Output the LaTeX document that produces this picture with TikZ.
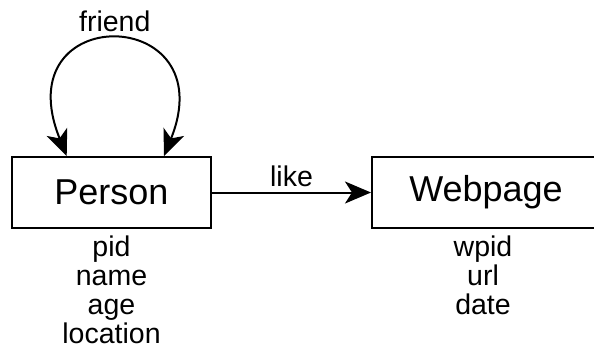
\documentclass[tikz,border=0pt]{standalone}
\usepackage{fontspec}
\setmainfont{Liberation Sans}
\usetikzlibrary{arrows.meta,positioning}

\begin{document}
\begin{tikzpicture}[
    node distance=79.5pt,
    >={Stealth[length=13pt, width=11pt, inset=3.5pt]},
    entity/.style={draw, line width=1pt, minimum height=35.5pt, font=\fontsize{18}{21.6}\selectfont},
    attrs/.style={align=center, font=\fontsize{14.25}{14.4}\selectfont},
    lbl/.style={font=\fontsize{14.25}{14.4}\selectfont},
    rel/.style={->, line width=1pt},
    selfrel/.style={<->, line width=1pt}
]
\useasboundingbox (0,0) rectangle (297pt,-175pt);
\clip (0,0) rectangle (297pt,-175pt);
\node[entity, minimum width=99.5pt] (person) at (55.75pt,-96.25pt) {Person};
\node[entity, minimum width=114pt, right=of person] (webpage) {Webpage};
\node[attrs, below=0pt of person] (personattrs) {pid\\name\\age\\location};
\node[attrs, below=0pt of webpage, xshift=-1.5pt] (webpageattrs) {wpid\\url\\date};
\draw[rel] (person) -- node[lbl, above=-1pt] {like} (webpage);
\draw[selfrel] ([xshift=-22.4pt]person.north) to[out=112, in=68, out distance=84pt, in distance=82pt]
    node[lbl, above=0.5pt] {friend} ([xshift=26.25pt]person.north);
\end{tikzpicture}
\end{document}
